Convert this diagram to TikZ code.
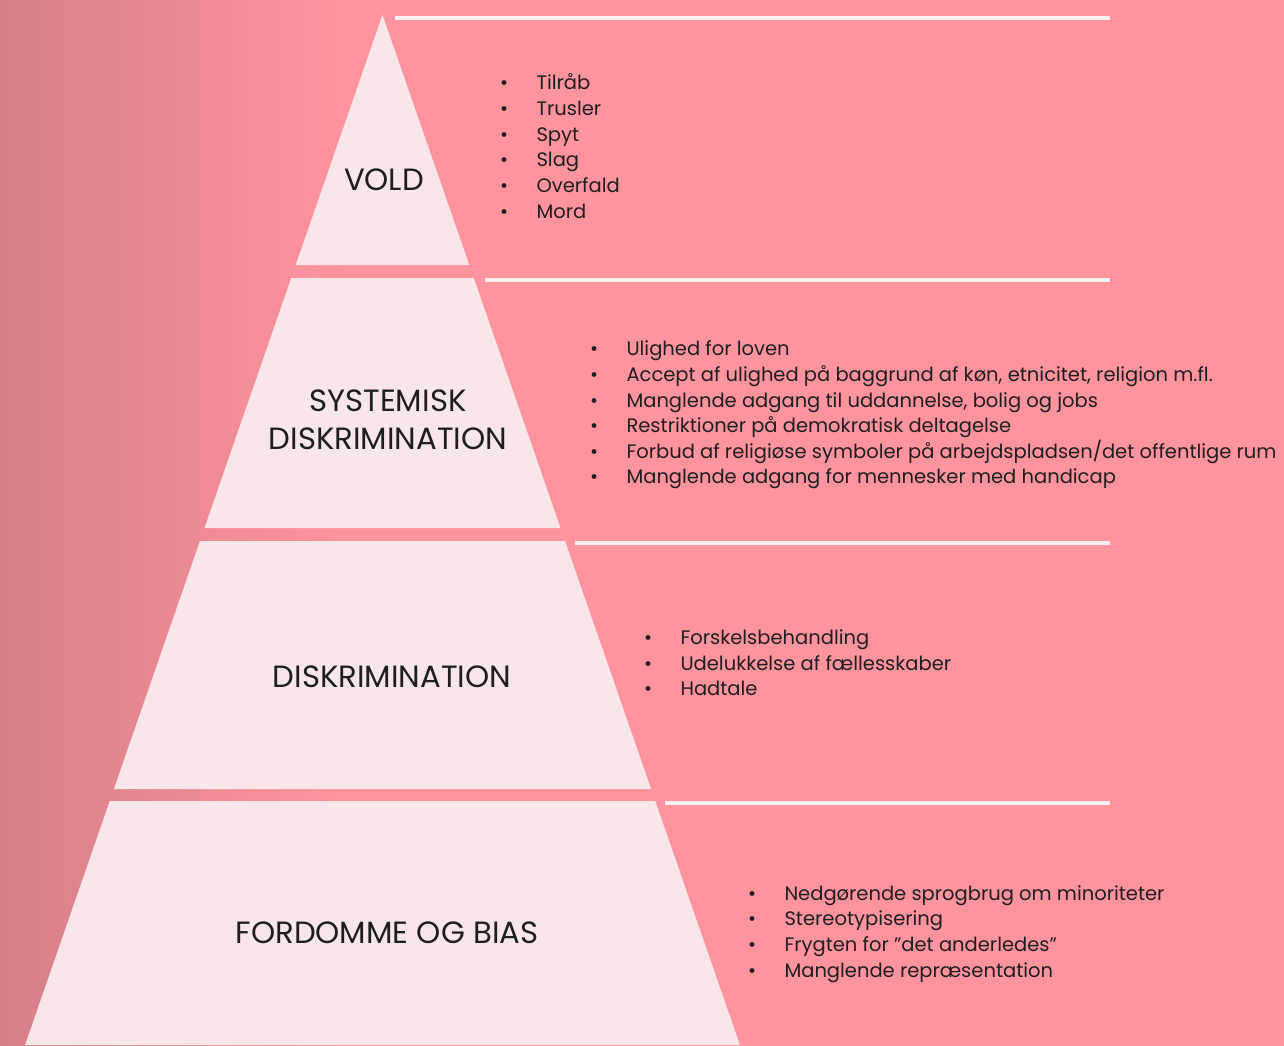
\documentclass[tikz,border=0pt]{standalone}
\usepackage{fontspec}
\setmainfont{Poppins}
\definecolor{bgleft}{HTML}{D47F88}
\definecolor{bgright}{HTML}{FF939E}
\definecolor{layerfill}{HTML}{F8E6E8}
\definecolor{rulewhite}{HTML}{FAF0F0}
\definecolor{ink}{HTML}{1E1E1E}
\newcommand\bul{\makebox[20.8pt][l]{\textbullet}}

\begin{document}
\begin{tikzpicture}[
  x=0.02cm, y=-0.02cm,
  every node/.style={inner sep=0pt, outer sep=0pt, text=ink},
  layer/.style={fill=layerfill},
  rule/.style={draw=rulewhite, line width=2.3pt},
  title/.style={font=\fontsize{17.5}{21.6}\selectfont, align=center},
  list/.style={font=\fontsize{11.1}{14.6}\selectfont, align=left, anchor=west}
]

% Background: soft fade on the left, flat pink elsewhere.
\useasboundingbox (0,0) rectangle (1284,1045);
\shade[left color=bgleft, right color=bgright] (-3,-3) rectangle (340,1048);
\fill[bgright] (339,-3) rectangle (1287,1048);

% Apex and slope of the pyramid sides.
\def\ax{382.5}
\def\ay{15}
\def\k{0.347}

% Top layer is a triangle, the rest are trapezoids.
\fill[layer] (\ax,\ay) -- ({\ax+\k*(265-\ay)},265) -- ({\ax-\k*(265-\ay)},265) -- cycle;
\foreach \t/\b in {278/528, 541/789, 801/1045}
  \fill[layer] ({\ax-\k*(\t-\ay)},\t) -- ({\ax+\k*(\t-\ay)},\t)
    -- ({\ax+\k*(\b-\ay)},\b) -- ({\ax-\k*(\b-\ay)},\b) -- cycle;

% White rules on the right of each layer.
\foreach \x/\y in {395/18, 485/280, 575/543, 665/803}
  \draw[rule] (\x,\y) -- (1110,\y);

% Layer names
\node[title] (vold) at (384,180) {VOLD};
\node[title] (systemisk) at (388,420) {SYSTEMISK\\DISKRIMINATION};
\node[title] (diskrim) at (392,677) {DISKRIMINATION};
\node[title] (fordomme) at (387,933) {FORDOMME OG BIAS};

% Lists beside each layer
\node[list] (voldlist) at (500,146) {\bul Tilråb\\\bul Trusler\\\bul Spyt\\\bul Slag\\\bul Overfald\\\bul Mord};
\node[list] (systemlist) at (590,415) {\bul Ulighed for loven\\
  \bul Accept af ulighed på baggrund af køn, etnicitet, religion m.fl.\\
  \bul Manglende adgang til uddannelse, bolig og jobs\\
  \bul Restriktioner på demokratisk deltagelse\\
  \bul Forbud af religiøse symboler på arbejdspladsen/det offentlige rum\\
  \bul Manglende adgang for mennesker med handicap};
\node[list] (diskrimlist) at (644,663) {\bul Forskelsbehandling\\\bul Udelukkelse af fællesskaber\\\bul Hadtale};
\node[list] (fordommelist) at (748,934) {\bul Nedgørende sprogbrug om minoriteter\\
  \bul Stereotypisering\\
  \bul Frygten for ”det anderledes”\\
  \bul Manglende repræsentation};

\end{tikzpicture}
\end{document}
